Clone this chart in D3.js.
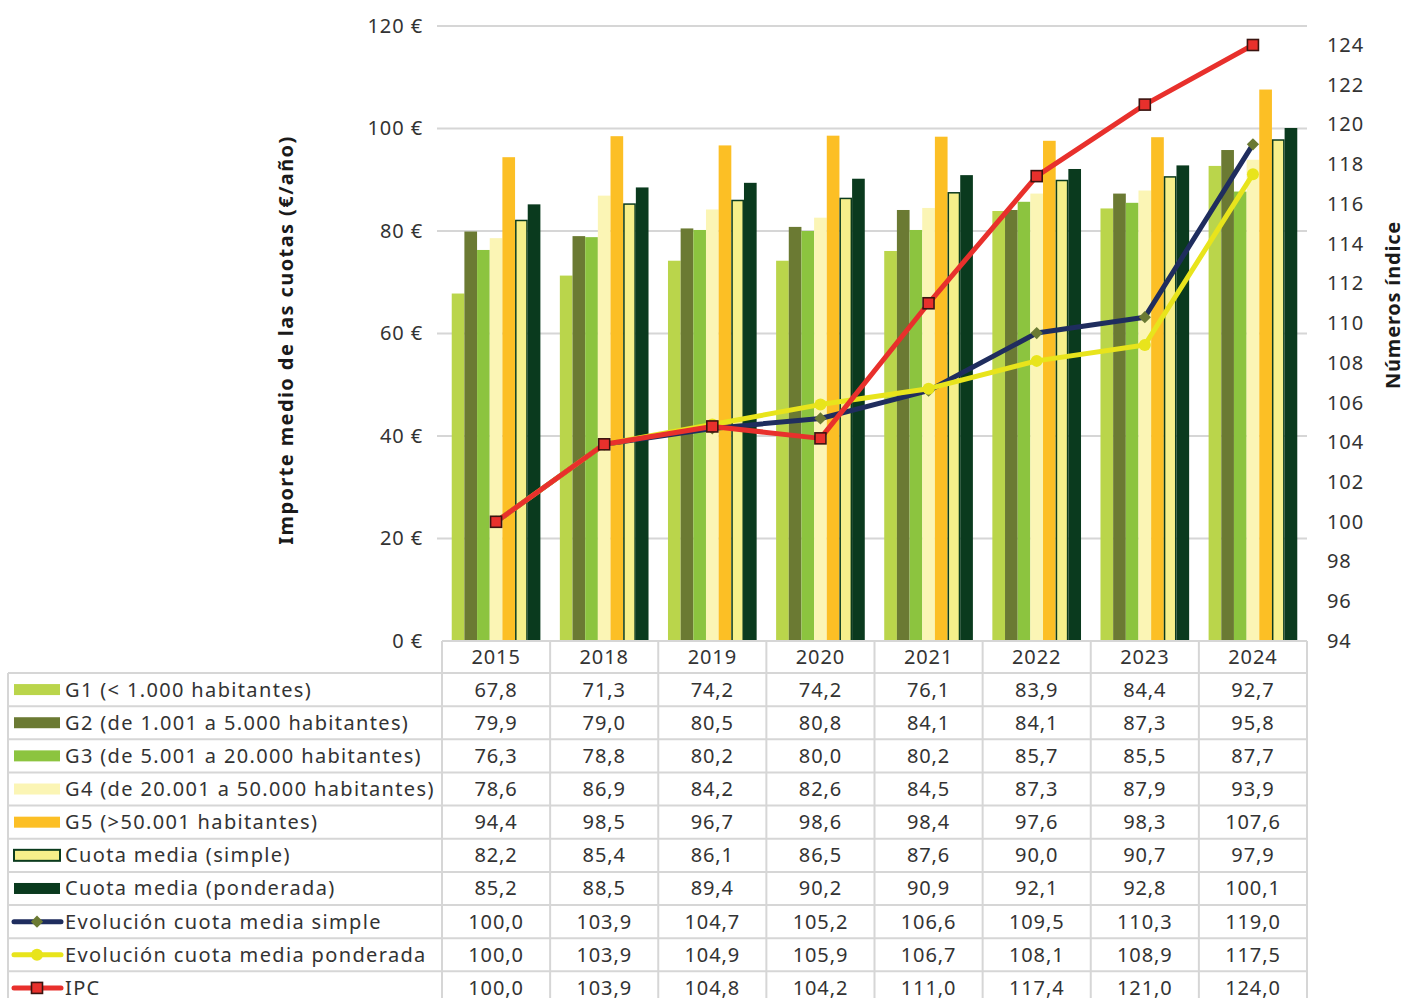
<!DOCTYPE html>
<html><head><meta charset="utf-8">
<script src="https://cdn.jsdelivr.net/npm/d3@7"></script>
<style>
html,body{margin:0;padding:0;background:#fff;}
svg{display:block;font-family:"Noto Sans",sans-serif;}
</style></head>
<body>
<svg id="chart" width="1405" height="998"></svg>
<script>
// ---- data ----
const years = ["2015","2018","2019","2020","2021","2022","2023","2024"];
const g1 = [67.8,71.3,74.2,74.2,76.1,83.9,84.4,92.7];
const g2 = [79.9,79.0,80.5,80.8,84.1,84.1,87.3,95.8];
const g3 = [76.3,78.8,80.2,80.0,80.2,85.7,85.5,87.7];
const g4 = [78.6,86.9,84.2,82.6,84.5,87.3,87.9,93.9];
const g5 = [94.4,98.5,96.7,98.6,98.4,97.6,98.3,107.6];
const cuotaSimple = [82.2,85.4,86.1,86.5,87.6,90.0,90.7,97.9];
const cuotaPonderada = [85.2,88.5,89.4,90.2,90.9,92.1,92.8,100.1];
const evolSimple = [100.0,103.9,104.7,105.2,106.6,109.5,110.3,119.0];
const evolPonderada = [100.0,103.9,104.9,105.9,106.7,108.1,108.9,117.5];
const ipc = [100.0,103.9,104.8,104.2,111.0,117.4,121.0,124.0];
const leftTicks = [0,20,40,60,80,100,120];
const rightTicks = [94,96,98,100,102,104,106,108,110,112,114,116,118,120,122,124];
const leftTitle = "Importe medio de las cuotas (€/año)";
const rightTitle = "Números índice";

const barSeries = [
  {name:"G1 (< 1.000 habitantes)", values:g1, fill:"#bad54b"},
  {name:"G2 (de 1.001 a 5.000 habitantes)", values:g2, fill:"#6b7a33"},
  {name:"G3 (de 5.001 a 20.000 habitantes)", values:g3, fill:"#8cc43f"},
  {name:"G4 (de 20.001 a 50.000 habitantes)", values:g4, fill:"#fbf5b5"},
  {name:"G5 (>50.001 habitantes)", values:g5, fill:"#fcbf25"},
  {name:"Cuota media (simple)", values:cuotaSimple, fill:"#f6ef8a", stroke:"#0b3b1d"},
  {name:"Cuota media (ponderada)", values:cuotaPonderada, fill:"#0a3a1e"}
];
const lineSeries = [
  {name:"Evolución cuota media simple", values:evolSimple, color:"#1f2d5e", marker:"diamond", mfill:"#6b7a33"},
  {name:"Evolución cuota media ponderada", values:evolPonderada, color:"#e8e41c", marker:"circle", mfill:"#e8e41c"},
  {name:"IPC", values:ipc, color:"#e8302c", marker:"square", mfill:"#e8302c", mstroke:"#3a1410"}
];

// ---- layout ----
const svg = d3.select("#chart");
const plotL = 442, plotR = 1307, plotB = 641, plotT = 26;
const tableL = 8, headerTop = 641, headerH = 32, rowH = 33.15;
const gridColor = "#d6d6d6", textColor = "#333";
const fs = 20;
const ls = "0.9px";

const x = d3.scaleBand().domain(years).range([plotL, plotR]).paddingInner(0.18).paddingOuter(0.09);
const xCat = d3.scaleBand().domain(years).range([plotL, plotR]).padding(0);
const xs = d3.scaleBand().domain(barSeries.map(d=>d.name)).range([0, x.bandwidth()]).padding(0);
const yL = d3.scaleLinear().domain([0,120]).range([plotB, plotT]);
const yR = d3.scaleLinear().domain([94,124]).range([plotB, 45]);

// gridlines
svg.append("g").selectAll("line").data(leftTicks.filter(t=>t>0)).join("line")
  .attr("x1", plotL-5).attr("x2", plotR).attr("y1", d=>yL(d)).attr("y2", d=>yL(d))
  .attr("stroke", gridColor).attr("stroke-width", 2);

// left axis
const axL = svg.append("g").attr("transform", `translate(${plotL},0)`)
  .call(d3.axisLeft(yL).tickValues(leftTicks).tickSize(0).tickPadding(19).tickFormat(d=>d+" €"));
axL.select(".domain").remove();
axL.selectAll("text").attr("font-size", fs).attr("fill", textColor).attr("font-family","Noto Sans").style("letter-spacing", ls);

// right axis
const axR = svg.append("g").attr("transform", `translate(${plotR},0)`)
  .call(d3.axisRight(yR).tickValues(rightTicks).tickSize(0).tickPadding(20).tickFormat(d3.format("d")));
axR.select(".domain").remove();
axR.selectAll("text").attr("font-size", fs).attr("fill", textColor).attr("font-family","Noto Sans").style("letter-spacing", ls);

// axis titles
svg.append("text").attr("transform", `translate(293,340) rotate(-90)`)
  .attr("text-anchor","middle").attr("font-size",20).attr("font-weight","bold").attr("fill","#1a1a1a")
  .style("letter-spacing","1.4px").text(leftTitle);
svg.append("text").attr("transform", `translate(1400,305) rotate(-90)`)
  .attr("text-anchor","middle").attr("font-size",20).attr("font-weight","bold").attr("fill","#1a1a1a")
  .style("letter-spacing","0.8px").text(rightTitle);

// bars
const groups = svg.append("g").selectAll("g").data(years).join("g")
  .attr("transform", d=>`translate(${x(d)},0)`);
barSeries.forEach(s=>{
  groups.append("rect")
    .attr("x", xs(s.name) + (s.stroke?0.75:0))
    .attr("width", xs.bandwidth() - (s.stroke?1.5:0))
    .attr("y", (d,i)=>yL(s.values[i]) + (s.stroke?0.75:0))
    .attr("height", (d,i)=>plotB - yL(s.values[i]) - (s.stroke?0.75:0))
    .attr("fill", s.fill)
    .attr("stroke", s.stroke || "none")
    .attr("stroke-width", s.stroke?1.5:0);
});

// lines
function drawMarker(g, type, cx, cy, fill, stroke){
  if(type==="diamond"){
    g.append("path").attr("d", d3.symbol(d3.symbolSquare, 75)()).attr("transform",`translate(${cx},${cy}) rotate(45)`).attr("fill",fill);
  } else if(type==="circle"){
    g.append("circle").attr("cx",cx).attr("cy",cy).attr("r",6).attr("fill",fill);
  } else {
    g.append("rect").attr("x",cx-5.5).attr("y",cy-5.5).attr("width",11).attr("height",11)
      .attr("fill",fill).attr("stroke",stroke).attr("stroke-width",1.6);
  }
}
const lineGen = d3.line().x((d,i)=>xCat(years[i])+xCat.bandwidth()/2).y(d=>yR(d));
lineSeries.forEach(s=>{
  const g = svg.append("g");
  g.append("path").datum(s.values).attr("d", lineGen).attr("fill","none")
    .attr("stroke", s.color).attr("stroke-width",5).attr("stroke-linejoin","round");
  s.values.forEach((v,i)=>drawMarker(g, s.marker, xCat(years[i])+xCat.bandwidth()/2, yR(v), s.mfill, s.mstroke));
});

// ---- data table ----
const tbl = svg.append("g");
const rows = barSeries.map(s=>({name:s.name, values:s.values, type:"bar", s}))
  .concat(lineSeries.map(s=>({name:s.name, values:s.values, type:"line", s})));
const rowY = i => headerTop + headerH + i*rowH;
const fmt = v => v.toFixed(1).replace(".", ",");

// header text
years.forEach(yv=>{
  tbl.append("text").attr("x", xCat(yv)+xCat.bandwidth()/2).attr("y", headerTop + headerH/2 + 7)
    .attr("text-anchor","middle").attr("font-size",fs).attr("fill",textColor).style("letter-spacing", ls).text(yv);
});
rows.forEach((r,i)=>{
  const cy = rowY(i) + rowH/2;
  // legend key
  if(r.type==="bar"){
    const st = r.s.stroke;
    tbl.append("rect").attr("x", 14).attr("y", cy-5.5).attr("width", 46).attr("height", 11)
      .attr("fill", r.s.fill).attr("stroke", st||"none").attr("stroke-width", st?2:0);
  } else {
    tbl.append("line").attr("x1",14).attr("x2",61).attr("y1",cy).attr("y2",cy)
      .attr("stroke", r.s.color).attr("stroke-width",5).attr("stroke-linecap","round");
    drawMarker(tbl, r.s.marker, 37, cy, r.s.mfill, r.s.mstroke);
  }
  tbl.append("text").attr("x", 65).attr("y", cy+7).attr("font-size",fs).attr("fill",textColor)
    .style("letter-spacing","1.35px").text(r.name);
  r.values.forEach((v,j)=>{
    tbl.append("text").attr("x", xCat(years[j])+xCat.bandwidth()/2).attr("y", cy+7)
      .attr("text-anchor","middle").attr("font-size",fs).attr("fill",textColor).style("letter-spacing", ls).text(fmt(v));
  });
});
// table grid lines
const tableBottom = rowY(rows.length);
tbl.append("line").attr("x1",plotL).attr("x2",plotR).attr("y1",headerTop).attr("y2",headerTop)
  .attr("stroke",gridColor).attr("stroke-width",2);
d3.range(rows.length+1).forEach(i=>{
  tbl.append("line").attr("x1",tableL).attr("x2",plotR).attr("y1",rowY(i)).attr("y2",rowY(i))
    .attr("stroke",gridColor).attr("stroke-width",2);
});
tbl.append("line").attr("x1",tableL).attr("x2",tableL).attr("y1",rowY(0)).attr("y2",tableBottom)
  .attr("stroke",gridColor).attr("stroke-width",2);
years.forEach(yv=>{
  tbl.append("line").attr("x1",xCat(yv)).attr("x2",xCat(yv)).attr("y1",headerTop).attr("y2",tableBottom)
    .attr("stroke",gridColor).attr("stroke-width",2);
});
tbl.append("line").attr("x1",plotR).attr("x2",plotR).attr("y1",headerTop).attr("y2",tableBottom)
  .attr("stroke",gridColor).attr("stroke-width",2);
</script>
</body></html>
